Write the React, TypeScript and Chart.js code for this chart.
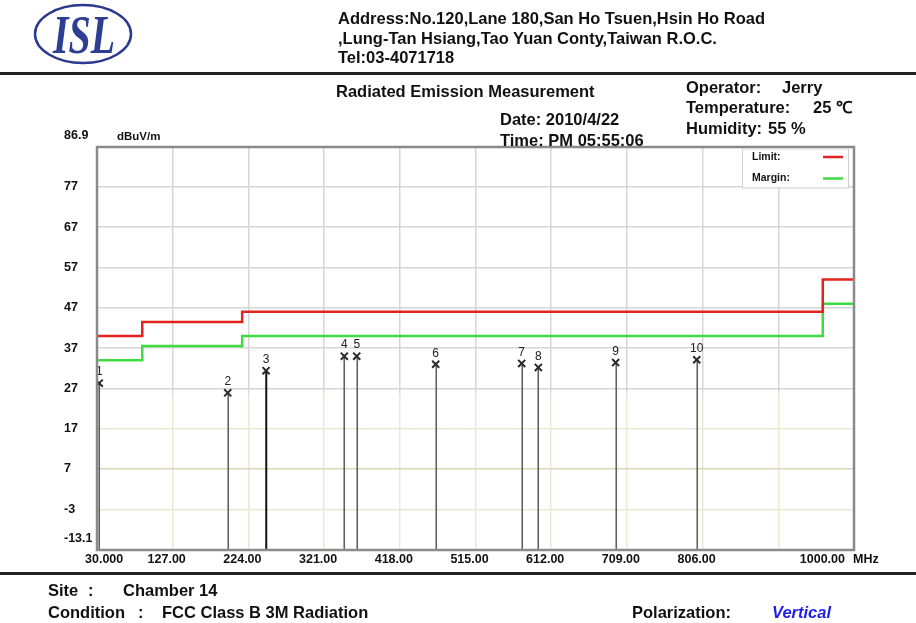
import React, { useEffect, useRef } from "react";
import { Chart, registerables } from "chart.js";

Chart.register(...registerables);

// ---- data ----
const FREQ_TICKS = [30, 127, 224, 321, 418, 515, 612, 709, 806, 903, 1000];
const FREQ_TICK_LABELS = ["30.000", "127.00", "224.00", "321.00", "418.00", "515.00", "612.00", "709.00", "806.00", "", "1000.00"];
const LEVEL_TICKS = [-13.1, -3, 7, 17, 27, 37, 47, 57, 67, 77, 86.9];
const LEVEL_TICK_LABELS = ["-13.1", "-3", "7", "17", "27", "37", "47", "57", "67", "77", "86.9"];

const LIMIT_FREQ = [30, 88, 216, 960, 1000];
const LIMIT_LEVEL = [40, 43.5, 46, 54, 54];
const MARGIN_LEVEL = [34, 37.5, 40, 48, 48];

const MARKER_NO = ["1", "2", "3", "4", "5", "6", "7", "8", "9", "10"];
const MARKER_FREQ = [32.9, 197.5, 246.6, 346.9, 362.8, 464.0, 574.2, 595.5, 694.6, 798.5];
const MARKER_LEVEL = [28.3, 25.9, 31.4, 35.0, 35.0, 33.0, 33.2, 32.2, 33.4, 34.1];

const HIGHLIGHT_MARKER = "3";
const FONT = 'Arial, "Liberation Sans", sans-serif';

const emcPlugin = {
  id: "emcPlugin",
  beforeDatasetsDraw(chart: any) {
    const { ctx, chartArea } = chart;
    const meta = chart.getDatasetMeta(2);
    ctx.save();
    meta.data.forEach((pt: any, i: number) => {
      const hl = MARKER_NO[i] === HIGHLIGHT_MARKER;
      ctx.beginPath();
      ctx.strokeStyle = hl ? "#111111" : "#606060";
      ctx.lineWidth = hl ? 2 : 1.6;
      ctx.moveTo(Math.round(pt.x) + 0.25, chartArea.bottom);
      ctx.lineTo(Math.round(pt.x) + 0.25, pt.y);
      ctx.stroke();
    });
    ctx.restore();
  },
  afterDatasetsDraw(chart: any) {
    const { ctx, chartArea } = chart;
    const xs = chart.scales.x;
    const ys = chart.scales.y;
    ctx.save();

    // marker numbers
    const meta = chart.getDatasetMeta(2);
    ctx.fillStyle = "#222";
    ctx.font = `12px ${FONT}`;
    ctx.textAlign = "center";
    ctx.textBaseline = "middle";
    meta.data.forEach((pt: any, i: number) => {
      ctx.fillText(MARKER_NO[i], pt.x, pt.y - 11);
    });

    // frame
    ctx.strokeStyle = "#8a8a8a";
    ctx.lineWidth = 2.5;
    ctx.strokeRect(chartArea.left, chartArea.top, chartArea.right - chartArea.left, chartArea.bottom - chartArea.top);

    // legend box
    const lx = chartArea.right - 112;
    const ly = chartArea.top + 1.5;
    ctx.fillStyle = "#ffffff";
    ctx.fillRect(lx, ly, 106, 39);
    ctx.strokeStyle = "#d0d0d0";
    ctx.lineWidth = 1;
    ctx.strokeRect(lx + 0.5, ly + 0.5, 106, 39);
    ctx.fillStyle = "#111";
    ctx.font = `bold 10.5px ${FONT}`;
    ctx.textAlign = "left";
    ctx.textBaseline = "middle";
    ctx.fillText("Limit:", lx + 10, ly + 8.5);
    ctx.fillText("Margin:", lx + 10, ly + 29.5);
    ctx.lineWidth = 2.5;
    ctx.strokeStyle = "#e3231f";
    ctx.beginPath();
    ctx.moveTo(lx + 81, ly + 8.5);
    ctx.lineTo(lx + 101, ly + 8.5);
    ctx.stroke();
    ctx.strokeStyle = "#3fdc3f";
    ctx.beginPath();
    ctx.moveTo(lx + 81, ly + 30);
    ctx.lineTo(lx + 101, ly + 30);
    ctx.stroke();

    // y tick labels
    ctx.fillStyle = "#111";
    ctx.font = `bold 12.5px ${FONT}`;
    ctx.textAlign = "left";
    ctx.textBaseline = "middle";
    LEVEL_TICKS.forEach((v, i) => {
      let py = ys.getPixelForValue(v);
      if (i === 0 || i === LEVEL_TICKS.length - 1) py -= 11;
      ctx.fillText(LEVEL_TICK_LABELS[i], chartArea.left - 33, py);
    });
    ctx.font = `bold 11.5px ${FONT}`;
    ctx.fillText("dBuV/m", chartArea.left + 20, ys.getPixelForValue(86.9) - 10);

    // x tick labels
    ctx.font = `bold 12.5px ${FONT}`;
    const ty = chartArea.bottom + 9.5;
    FREQ_TICKS.forEach((v, i) => {
      const lab = FREQ_TICK_LABELS[i];
      if (!lab) return;
      const px = xs.getPixelForValue(v);
      if (i === 0) {
        ctx.textAlign = "left";
        ctx.fillText(lab, px - 12, ty);
      } else if (i === FREQ_TICKS.length - 1) {
        ctx.textAlign = "right";
        ctx.fillText(lab, px - 9, ty);
      } else {
        ctx.textAlign = "center";
        ctx.fillText(lab, px - 6, ty);
      }
    });
    ctx.textAlign = "left";
    ctx.fillText("MHz", chartArea.right - 1, ty);
    ctx.restore();
  },
};

function EmcChart() {
  const ref = useRef<HTMLCanvasElement | null>(null);
  useEffect(() => {
    if (!ref.current) return;
    const limitData = LIMIT_FREQ.map((f, i) => ({ x: f, y: LIMIT_LEVEL[i] }));
    const marginData = LIMIT_FREQ.map((f, i) => ({ x: f, y: MARGIN_LEVEL[i] }));
    const markerData = MARKER_FREQ.map((f, i) => ({ x: f, y: MARKER_LEVEL[i] }));
    const chart = new Chart(ref.current, {
      type: "scatter",
      data: {
        datasets: [
          {
            label: "Limit",
            data: limitData,
            showLine: true,
            stepped: true,
            borderColor: "#e3231f",
            borderWidth: 2.5,
            pointRadius: 0,
            fill: false,
          },
          {
            label: "Margin",
            data: marginData,
            showLine: true,
            stepped: true,
            borderColor: "#3fdc3f",
            borderWidth: 2.5,
            pointRadius: 0,
            fill: false,
          },
          {
            label: "Markers",
            data: markerData,
            showLine: false,
            pointStyle: "crossRot",
            pointRadius: 5,
            pointBorderWidth: 2,
            pointBorderColor: "#2a2a2a",
            pointBackgroundColor: "#2a2a2a",
          },
        ],
      } as any,
      options: {
        animation: false,
        responsive: false,
        devicePixelRatio: 1,
        layout: { padding: { left: 97, top: 147, right: 62, bottom: 73 } },
        plugins: { legend: { display: false }, tooltip: { enabled: false } },
        events: [],
        scales: {
          x: {
            type: "linear",
            min: 30,
            max: 1000,
            afterBuildTicks: (s: any) => {
              s.ticks = FREQ_TICKS.map((v) => ({ value: v }));
            },
            ticks: { display: false },
            border: { display: false },
            grid: {
              drawTicks: false,
              lineWidth: 1.5,
              color: (c: any) => {
                const v = c.tick?.value;
                if (v === 30 || v === 1000) return "rgba(0,0,0,0)";
                const ch = c.chart;
                const area = ch.chartArea;
                if (!area) return "#d6d6d6";
                const g = ch.ctx.createLinearGradient(0, area.top, 0, area.bottom);
                g.addColorStop(0, "#d6d6d6");
                g.addColorStop(0.6, "#d6d6d6");
                g.addColorStop(0.62, "#ebe8d5");
                g.addColorStop(1, "#ebe8d5");
                return g;
              },
            },
          },
          y: {
            type: "linear",
            min: -13.1,
            max: 86.9,
            afterBuildTicks: (s: any) => {
              s.ticks = LEVEL_TICKS.map((v) => ({ value: v }));
            },
            ticks: { display: false },
            border: { display: false },
            grid: {
              drawTicks: false,
              lineWidth: 1.5,
              color: (c: any) => {
                const v = c.tick?.value;
                if (v === -13.1 || v === 86.9) return "rgba(0,0,0,0)";
                if (v === 7) return "#dad6b6";
                if (v <= 17) return "#ebe8d5";
                return "#d6d6d6";
              },
            },
          },
        },
      } as any,
      plugins: [emcPlugin],
    });
    return () => chart.destroy();
  }, []);
  return (
    <canvas
      ref={ref}
      width={916}
      height={623}
      style={{ position: "absolute", left: 0, top: 0, width: 916, height: 623 }}
    />
  );
}

function T({ x, cy, children, style }: { x: number; cy: number; children: any; style?: any }) {
  return (
    <div
      style={{
        position: "absolute",
        left: x,
        top: cy - 10,
        lineHeight: "20px",
        fontSize: 16.5,
        fontWeight: "bold",
        fontFamily: FONT,
        color: "#111",
        whiteSpace: "nowrap",
        ...style,
      }}
    >
      {children}
    </div>
  );
}

export default function App() {
  return (
    <div
      style={{
        position: "absolute",
        left: 0,
        top: 0,
        width: 916,
        height: 623,
        background: "#ffffff",
        overflow: "hidden",
      }}
    >
      <EmcChart />
      <svg width={140} height={72} style={{ position: "absolute", left: 0, top: 0 }}>
        <ellipse cx={83} cy={34} rx={48} ry={29} fill="none" stroke="#2b3a8c" strokeWidth={2.5} />
        <text
          x={84}
          y={53}
          textAnchor="middle"
          fontFamily='"Liberation Serif", "DejaVu Serif", serif'
          fontWeight="bold"
          fontStyle="italic"
          fontSize={54}
          fill="#2d3e93"
          textLength={62}
          lengthAdjust="spacingAndGlyphs"
        >
          ISL
        </text>
      </svg>
      <T x={338} cy={17.5}>Address:No.120,Lane 180,San Ho Tsuen,Hsin Ho Road</T>
      <T x={338} cy={37.5}>,Lung-Tan Hsiang,Tao Yuan Conty,Taiwan R.O.C.</T>
      <T x={338} cy={56.5}>Tel:03-4071718</T>
      <div style={{ position: "absolute", left: 0, top: 71.5, width: 916, height: 3, background: "#222" }} />

      <T x={336} cy={90.7}>Radiated Emission Measurement</T>
      <T x={500} cy={118.7}>Date: 2010/4/22</T>
      <T x={500} cy={139.7}>Time: PM 05:55:06</T>
      <T x={686} cy={86.7}>Operator:</T>
      <T x={782} cy={86.7}>Jerry</T>
      <T x={686} cy={106.7}>Temperature:</T>
      <T x={813} cy={106.7}>25 ℃</T>
      <T x={686} cy={128.3}>Humidity:</T>
      <T x={768} cy={128.3}>55 %</T>

      <div style={{ position: "absolute", left: 0, top: 571.5, width: 916, height: 3, background: "#222" }} />
      <T x={48} cy={590}>Site</T>
      <T x={88} cy={590}>:</T>
      <T x={123} cy={590}>Chamber 14</T>
      <T x={48} cy={612}>Condition</T>
      <T x={138} cy={612}>:</T>
      <T x={162} cy={612}>FCC Class B 3M Radiation</T>
      <T x={632} cy={612}>Polarization:</T>
      <T x={772} cy={612} style={{ color: "#1f1fe6", fontStyle: "italic" }}>
        Vertical
      </T>
    </div>
  );
}
